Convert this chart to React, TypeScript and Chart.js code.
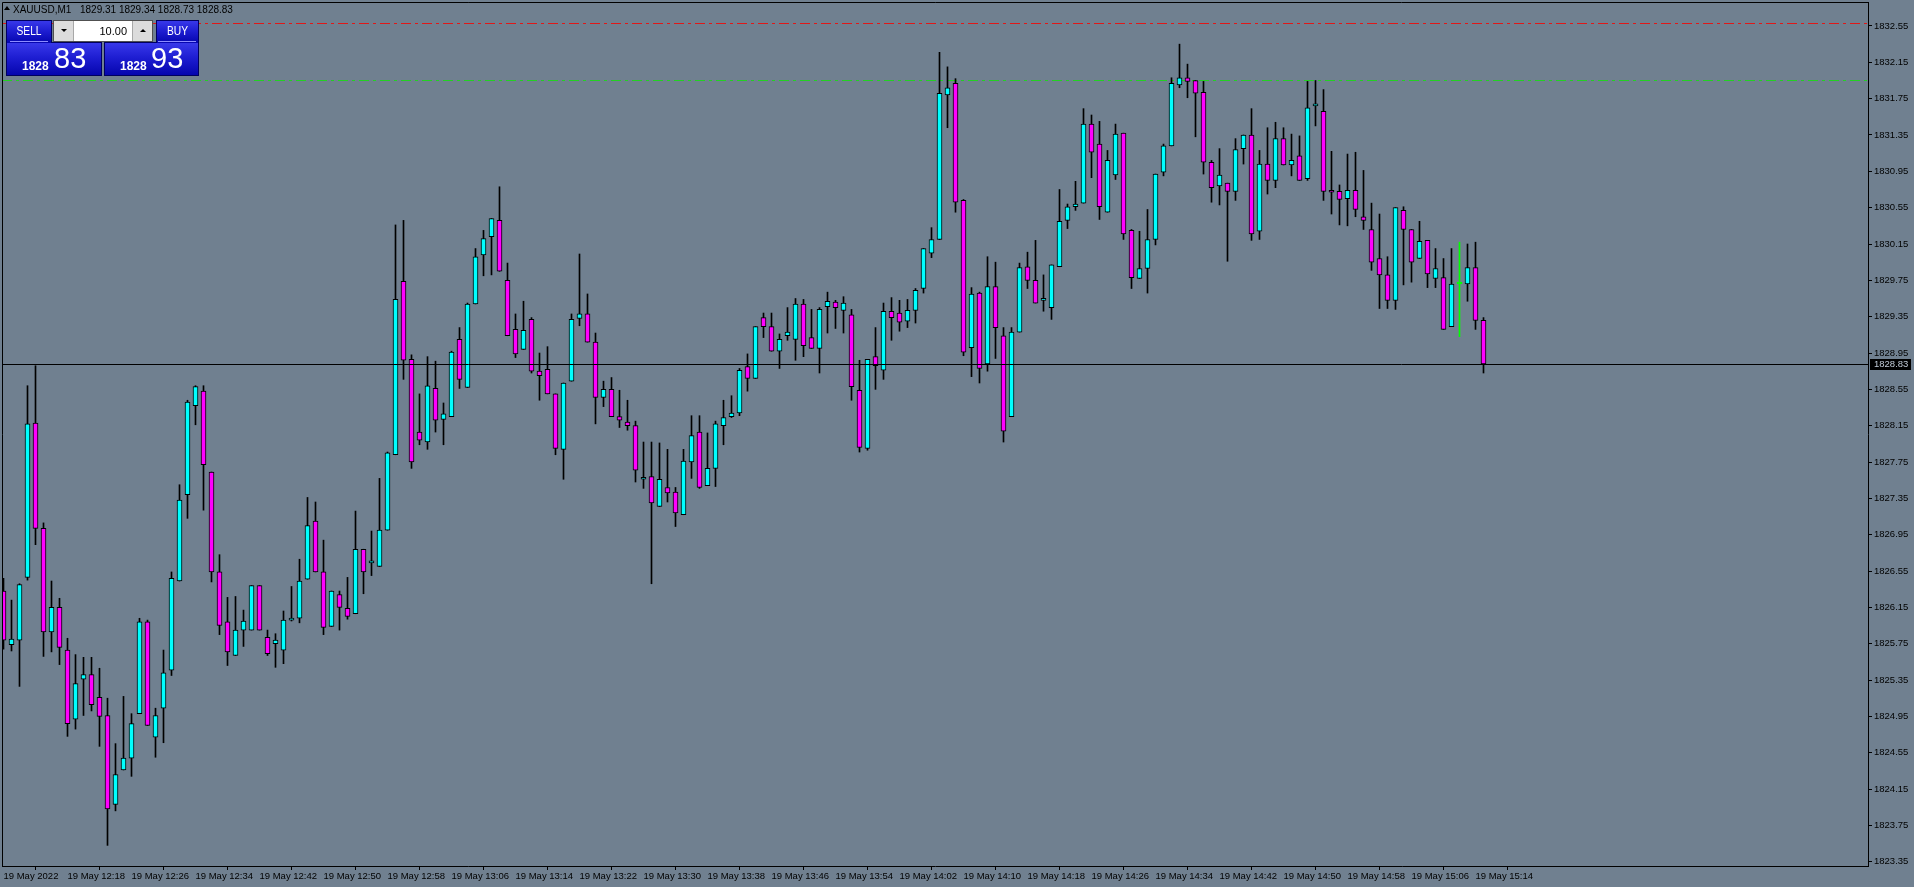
import React, { useEffect, useRef } from "react";
import { Chart, registerables } from "chart.js";

Chart.register(...registerables);

const symbol = "XAUUSD,M1";

// tick labels on the time axis (one every 8 one-minute bars, first bar = 12:10)
const timeLabels = [
  "19 May 2022", "19 May 12:18", "19 May 12:26", "19 May 12:34", "19 May 12:42", "19 May 12:50",
  "19 May 12:58", "19 May 13:06", "19 May 13:14", "19 May 13:22", "19 May 13:30", "19 May 13:38",
  "19 May 13:46", "19 May 13:54", "19 May 14:02", "19 May 14:10", "19 May 14:18", "19 May 14:26",
  "19 May 14:34", "19 May 14:42", "19 May 14:50", "19 May 14:58", "19 May 15:06", "19 May 15:14",
];
const labelStep = 8;

const opens = [
  1826.33, 1825.74, 1825.79, 1826.48, 1828.18, 1827.02, 1825.88, 1826.15, 1825.68, 1824.92,
  1825.36, 1825.41, 1825.16, 1824.96, 1823.98, 1824.36, 1824.49, 1824.98, 1825.99, 1824.72,
  1825.04, 1825.46, 1826.44, 1827.39, 1828.37, 1828.53, 1827.64, 1826.54, 1825.99, 1825.62,
  1825.90, 1825.90, 1826.39, 1825.82, 1825.75, 1825.68, 1826.01, 1826.03, 1826.46, 1827.10,
  1826.54, 1825.94, 1826.29, 1826.14, 1826.08, 1826.79, 1826.64, 1826.60, 1827.00, 1827.83,
  1829.74, 1828.88, 1828.08, 1827.97, 1828.56, 1828.22, 1828.25, 1829.10, 1828.57, 1829.49,
  1830.03, 1830.23, 1830.41, 1829.75, 1829.21, 1828.99, 1829.32, 1828.75, 1828.77, 1828.50,
  1827.89, 1828.64, 1829.33, 1829.38, 1829.07, 1828.46, 1828.55, 1828.25, 1828.19, 1828.15,
  1827.56, 1827.59, 1827.26, 1827.47, 1827.42, 1827.17, 1827.75, 1828.08, 1827.49, 1827.68,
  1828.15, 1828.25, 1828.29, 1828.80, 1828.67, 1829.34, 1829.24, 1828.97, 1829.14, 1829.10,
  1829.49, 1829.12, 1829.00, 1829.46, 1829.51, 1829.42, 1829.37, 1828.54, 1827.90, 1828.91,
  1828.76, 1829.41, 1829.39, 1829.30, 1829.42, 1829.66, 1830.05, 1830.20, 1831.79, 1831.92,
  1830.63, 1829.01, 1829.61, 1828.83, 1829.68, 1829.14, 1828.25, 1829.18, 1829.90, 1829.75,
  1829.53, 1829.45, 1829.90, 1830.41, 1830.56, 1830.60, 1831.47, 1831.25, 1830.50, 1830.91,
  1831.37, 1830.30, 1829.77, 1829.88, 1830.20, 1830.94, 1831.23, 1831.90, 1831.98, 1831.95,
  1831.82, 1831.05, 1830.79, 1830.82, 1830.73, 1831.20, 1831.35, 1830.29, 1831.03, 1830.85,
  1831.31, 1831.02, 1831.12, 1830.87, 1831.67, 1831.61, 1830.74, 1830.73, 1830.65, 1830.74,
  1830.45, 1830.31, 1829.99, 1829.81, 1829.53, 1830.52, 1830.31, 1829.99, 1830.19, 1829.77,
  1829.78, 1829.24, 1829.71, 1829.71, 1829.89, 1829.31,
];

const highs = [
  1826.47, 1826.23, 1826.41, 1828.59, 1828.81, 1827.08, 1826.44, 1826.25, 1825.81, 1825.63,
  1825.60, 1825.60, 1825.48, 1825.15, 1824.65, 1825.17, 1824.98, 1826.03, 1826.01, 1825.04,
  1825.68, 1826.54, 1827.50, 1828.43, 1828.59, 1828.59, 1827.64, 1826.73, 1826.26, 1826.27,
  1826.12, 1826.39, 1826.39, 1825.90, 1825.86, 1826.11, 1826.38, 1826.68, 1827.36, 1827.31,
  1826.89, 1826.33, 1826.33, 1826.48, 1827.21, 1826.79, 1826.99, 1827.57, 1827.86, 1830.36,
  1830.41, 1828.93, 1828.50, 1828.91, 1828.86, 1828.40, 1828.97, 1829.23, 1829.50, 1830.10,
  1830.30, 1830.43, 1830.78, 1829.94, 1829.38, 1829.52, 1829.34, 1828.95, 1829.02, 1828.50,
  1828.62, 1829.38, 1830.04, 1829.60, 1829.17, 1828.64, 1828.68, 1828.54, 1828.43, 1828.20,
  1827.97, 1827.97, 1827.96, 1827.89, 1827.47, 1827.89, 1828.26, 1828.26, 1828.07, 1828.20,
  1828.43, 1828.48, 1828.78, 1828.94, 1829.24, 1829.39, 1829.39, 1829.16, 1829.45, 1829.55,
  1829.54, 1829.43, 1829.45, 1829.62, 1829.53, 1829.57, 1829.43, 1828.87, 1828.88, 1829.23,
  1829.50, 1829.56, 1829.53, 1829.54, 1829.66, 1830.10, 1830.33, 1832.26, 1832.10, 1831.97,
  1830.64, 1829.67, 1829.62, 1830.01, 1829.95, 1829.23, 1829.23, 1829.94, 1830.06, 1830.19,
  1829.81, 1829.92, 1830.75, 1830.59, 1830.84, 1831.64, 1831.57, 1831.50, 1831.18, 1831.47,
  1831.37, 1830.31, 1830.29, 1830.53, 1830.92, 1831.25, 1831.98, 1832.35, 1832.13, 1831.95,
  1831.94, 1831.07, 1831.20, 1830.82, 1831.31, 1831.35, 1831.64, 1831.18, 1831.43, 1831.49,
  1831.43, 1831.36, 1831.34, 1831.94, 1831.95, 1831.85, 1831.17, 1830.80, 1831.14, 1831.16,
  1830.96, 1830.60, 1830.48, 1830.01, 1830.55, 1830.56, 1830.31, 1830.40, 1830.19, 1830.10,
  1829.99, 1830.10, 1830.17, 1830.15, 1830.17, 1829.34,
];

const lows = [
  1825.69, 1825.67, 1825.28, 1826.45, 1826.84, 1825.61, 1825.66, 1825.52, 1824.73, 1824.81,
  1824.96, 1825.01, 1824.62, 1823.53, 1823.91, 1824.36, 1824.29, 1824.98, 1824.85, 1824.50,
  1824.66, 1825.40, 1826.44, 1827.13, 1828.16, 1827.22, 1826.43, 1825.85, 1825.51, 1825.62,
  1825.72, 1825.90, 1825.90, 1825.62, 1825.49, 1825.53, 1826.00, 1825.98, 1826.46, 1826.54,
  1825.85, 1825.94, 1825.90, 1826.02, 1826.08, 1826.30, 1826.50, 1826.60, 1827.00, 1827.83,
  1828.66, 1827.68, 1827.94, 1827.89, 1828.08, 1827.94, 1828.25, 1828.56, 1828.57, 1829.49,
  1829.80, 1829.81, 1829.85, 1829.14, 1828.90, 1828.99, 1828.73, 1828.43, 1828.50, 1827.83,
  1827.56, 1828.64, 1829.25, 1829.07, 1828.17, 1828.36, 1828.25, 1828.13, 1828.10, 1827.53,
  1827.46, 1826.41, 1827.26, 1827.31, 1827.04, 1827.17, 1827.57, 1827.46, 1827.49, 1827.48,
  1827.94, 1828.24, 1828.26, 1828.53, 1828.67, 1829.12, 1828.97, 1828.78, 1829.09, 1828.87,
  1828.91, 1829.00, 1828.73, 1829.17, 1829.22, 1829.17, 1828.43, 1827.86, 1827.88, 1828.55,
  1828.66, 1829.09, 1829.19, 1829.23, 1829.28, 1829.61, 1830.00, 1830.20, 1831.43, 1830.50,
  1828.92, 1828.69, 1828.62, 1828.75, 1828.89, 1827.97, 1828.25, 1829.18, 1829.66, 1829.50,
  1829.41, 1829.32, 1829.90, 1830.32, 1830.52, 1830.60, 1830.88, 1830.42, 1830.50, 1830.86,
  1830.20, 1829.66, 1829.77, 1829.61, 1830.14, 1830.90, 1831.23, 1831.87, 1831.76, 1831.33,
  1830.92, 1830.61, 1830.58, 1829.96, 1830.63, 1831.03, 1830.19, 1830.20, 1830.70, 1830.77,
  1831.02, 1830.90, 1830.85, 1830.85, 1831.45, 1830.63, 1830.48, 1830.36, 1830.35, 1830.45,
  1830.31, 1829.86, 1829.44, 1829.44, 1829.43, 1829.70, 1829.73, 1829.99, 1829.67, 1829.67,
  1829.21, 1829.24, 1829.13, 1829.52, 1829.21, 1828.73,
];

const closes = [
  1825.79, 1825.80, 1826.40, 1828.17, 1827.02, 1825.88, 1826.15, 1825.71, 1824.87, 1825.31,
  1825.41, 1825.08, 1824.95, 1823.93, 1824.31, 1824.49, 1824.87, 1825.99, 1824.85, 1824.96,
  1825.43, 1826.47, 1827.33, 1828.41, 1828.58, 1827.72, 1826.54, 1825.95, 1825.66, 1825.90,
  1826.00, 1826.39, 1825.90, 1825.64, 1825.79, 1826.01, 1826.03, 1826.44, 1827.05, 1826.54,
  1825.93, 1826.33, 1826.15, 1826.05, 1826.79, 1826.54, 1826.65, 1827.00, 1827.85, 1829.54,
  1828.87, 1827.75, 1827.99, 1828.59, 1828.21, 1828.28, 1828.96, 1828.66, 1829.49, 1830.01,
  1830.21, 1830.43, 1829.85, 1829.14, 1828.94, 1829.20, 1828.75, 1828.70, 1828.50, 1827.90,
  1828.62, 1829.32, 1829.38, 1829.07, 1828.46, 1828.55, 1828.25, 1828.21, 1828.15, 1827.66,
  1827.58, 1827.30, 1827.56, 1827.41, 1827.19, 1827.76, 1828.04, 1827.47, 1827.68, 1828.17,
  1828.24, 1828.29, 1828.76, 1828.67, 1829.24, 1829.24, 1828.97, 1829.10, 1829.18, 1829.49,
  1829.03, 1829.00, 1829.43, 1829.52, 1829.45, 1829.50, 1828.58, 1827.91, 1828.88, 1828.81,
  1829.41, 1829.34, 1829.29, 1829.42, 1829.64, 1830.10, 1830.20, 1831.81, 1831.87, 1830.61,
  1828.96, 1829.60, 1828.78, 1829.68, 1829.23, 1828.09, 1829.18, 1829.89, 1829.75, 1829.50,
  1829.54, 1829.92, 1830.40, 1830.56, 1830.59, 1831.47, 1831.16, 1830.56, 1831.07, 1831.36,
  1830.26, 1829.78, 1829.88, 1830.20, 1830.92, 1831.23, 1831.92, 1831.98, 1831.94, 1831.81,
  1831.05, 1830.77, 1830.91, 1830.73, 1831.19, 1831.35, 1830.26, 1831.03, 1830.85, 1831.31,
  1831.02, 1831.07, 1830.85, 1831.65, 1831.69, 1830.73, 1830.72, 1830.64, 1830.74, 1830.53,
  1830.41, 1829.95, 1829.81, 1829.53, 1830.55, 1830.31, 1829.95, 1830.18, 1829.82, 1829.88,
  1829.21, 1829.71, 1829.71, 1829.89, 1829.31, 1828.83,
];

const yTicks = [
  1823.35, 1823.75, 1824.15, 1824.55, 1824.95, 1825.35, 1825.75, 1826.15, 1826.55, 1826.95,
  1827.35, 1827.75, 1828.15, 1828.55, 1828.95, 1829.35, 1829.75, 1830.15, 1830.55, 1830.95,
  1831.35, 1831.75, 1832.15, 1832.55,
];

const yMin = 1823.303;
const yMax = 1832.814;
const xMin = -0.1875;
const xMax = 233.0625;

const askPrice = 1828.93;
const stopLevel = 1832.58;
const takeLevel = 1831.95;
const lotSize = "10.00";

const BG = "#708090";
const BULL = "#00FFFF";
const BEAR = "#FF00FF";
const DOJI = "#00FF00";
const FONT = "'Liberation Sans', Arial, sans-serif";

function splitPrice(p: number) {
  const s = p.toFixed(2);
  const [a, b] = s.split(".");
  return { big: b, small: a };
}

export default function App() {
  const ref = useRef<HTMLCanvasElement>(null);

  useEffect(() => {
    const canvas = ref.current!;
    const bid = closes[closes.length - 1];

    const bodyData = opens.map((o, i) => ({ x: i, y: [o, closes[i]] }));
    const wickData = lows.map((l, i) => ({ x: i, y: [l, highs[i]] }));
    const bodyColors = opens.map((o, i) => (closes[i] > o ? BULL : closes[i] < o ? BEAR : DOJI));
    const edgeColors = opens.map((o, i) => (closes[i] === o ? DOJI : "#000000"));

    const levelsPlugin = {
      id: "levels",
      beforeDatasetsDraw(chart: any) {
        const { ctx, chartArea } = chart;
        const ys = chart.scales.y;
        const draw = (v: number, color: string) => {
          const y = Math.round(ys.getPixelForValue(v)) + 0.5;
          ctx.save();
          ctx.strokeStyle = color;
          ctx.lineWidth = 1;
          ctx.setLineDash([10, 4, 3, 4]);
          ctx.beginPath();
          ctx.moveTo(chartArea.left, y);
          ctx.lineTo(chartArea.right, y);
          ctx.stroke();
          ctx.restore();
        };
        draw(stopLevel, "#E01818");
        draw(takeLevel, "#22D022");
      },
      afterDatasetsDraw(chart: any) {
        const { ctx, chartArea } = chart;
        const ys = chart.scales.y;
        const y = Math.round(ys.getPixelForValue(bid)) + 0.5;
        ctx.save();
        ctx.strokeStyle = "#000";
        ctx.lineWidth = 1;
        ctx.beginPath();
        ctx.moveTo(chartArea.left, y);
        ctx.lineTo(chartArea.right, y);
        ctx.stroke();
        ctx.restore();
      },
      afterDraw(chart: any) {
        const { ctx, chartArea } = chart;
        const ys = chart.scales.y;
        ctx.save();
        ctx.strokeStyle = "#000";
        ctx.lineWidth = 1;
        ctx.beginPath();
        ctx.moveTo(chartArea.left + 0.5, chartArea.bottom);
        ctx.lineTo(chartArea.left + 0.5, chartArea.top + 0.5);
        ctx.lineTo(chartArea.right, chartArea.top + 0.5);
        ctx.stroke();
        const y = Math.round(ys.getPixelForValue(bid));
        ctx.fillStyle = "#000";
        ctx.fillRect(chartArea.right + 2, y - 5, 41, 11);
        ctx.fillStyle = "#C0CAD6";
        ctx.font = `9.5px ${FONT}`;
        ctx.textBaseline = "middle";
        ctx.textAlign = "left";
        ctx.fillText(bid.toFixed(2), chartArea.right + 6, y + 0.5);
        ctx.restore();
      },
    };

    const chart = new Chart(canvas, {
      type: "bar",
      data: {
        datasets: [
          {
            data: bodyData as any,
            backgroundColor: bodyColors,
            borderColor: edgeColors,
            borderWidth: 1,
            borderSkipped: false,
            barThickness: 5,
            minBarLength: 2,
            grouped: false,
            order: 0,
          } as any,
          {
            data: wickData as any,
            backgroundColor: edgeColors,
            borderWidth: 0,
            barThickness: 1,
            grouped: false,
            order: 1,
          } as any,
        ],
      },
      options: {
        responsive: false,
        devicePixelRatio: 1,
        animation: false,
        events: [],
        layout: { padding: { left: 2, top: 2, right: 0, bottom: 0 } },
        plugins: { legend: { display: false }, tooltip: { enabled: false } },
        scales: {
          x: {
            type: "linear",
            min: xMin,
            max: xMax,
            bounds: "data",
            offset: false,
            grid: { drawOnChartArea: false, drawTicks: true, tickLength: 4, color: "#000" },
            border: { display: true, color: "#000", width: 1 },
            ticks: {
              autoSkip: false,
              maxRotation: 0,
              minRotation: 0,
              align: "start",
              padding: 1,
              color: "#000",
              font: { family: FONT, size: 9.5 },
              callback: (_v: any, i: number) => timeLabels[i],
            },
            afterBuildTicks: (s: any) => {
              s.ticks = timeLabels.map((_, j) => ({ value: j * labelStep }));
            },
            afterFit: (s: any) => {
              s.height = 21;
              s.paddingLeft = 0;
              s.paddingRight = 0;
              s.paddingTop = 0;
              s.paddingBottom = 0;
            },
          } as any,
          y: {
            type: "linear",
            position: "right",
            min: yMin,
            max: yMax,
            bounds: "data",
            grid: { drawOnChartArea: false, drawTicks: true, tickLength: 4, color: "#000" },
            border: { display: true, color: "#000", width: 1 },
            ticks: {
              padding: 2,
              color: "#000",
              font: { family: FONT, size: 9.5 },
              callback: (v: any) => Number(v).toFixed(2),
            },
            afterBuildTicks: (s: any) => {
              s.ticks = yTicks.map((v) => ({ value: v }));
            },
            afterFit: (s: any) => {
              s.width = 46;
              s.paddingTop = 0;
              s.paddingBottom = 0;
              s.paddingLeft = 0;
              s.paddingRight = 0;
            },
          } as any,
        },
      },
      plugins: [levelsPlugin],
    });
    return () => chart.destroy();
  }, []);

  const last = opens.length - 1;
  const bid = closes[last];
  const sellP = splitPrice(bid);
  const buyP = splitPrice(askPrice);
  const grad = "linear-gradient(to bottom, #3838ea 0%, #1e1ed2 45%, #0505ae 100%)";
  const navy = "#000060";

  const abs = (s: React.CSSProperties): React.CSSProperties => ({ position: "absolute", boxSizing: "border-box", ...s });

  return (
    <div style={{ position: "fixed", left: 0, top: 0, width: 1914, height: 887, background: BG, overflow: "hidden", fontFamily: FONT }}>
      <canvas ref={ref} width={1914} height={887} style={{ display: "block", position: "absolute", left: 0, top: 0 }} />

      {/* header */}
      <div style={abs({ left: 4, top: 6, width: 0, height: 0, borderLeft: "3px solid transparent", borderRight: "3px solid transparent", borderBottom: "4px solid #000" })} />
      <div style={abs({ left: 13, top: 5, fontSize: 10, lineHeight: "10px", color: "#000", whiteSpace: "pre" })}>{symbol}</div>
      <div style={abs({ left: 80, top: 5, fontSize: 10, lineHeight: "10px", color: "#000", whiteSpace: "pre" })}>
        {`${opens[last].toFixed(2)} ${highs[last].toFixed(2)} ${lows[last].toFixed(2)} ${closes[last].toFixed(2)}`}
      </div>

      {/* SELL block */}
      <div style={abs({ left: 6, top: 42, width: 96, height: 34, background: grad, border: `1px solid ${navy}` })} />
      <div style={abs({ left: 6, top: 20, width: 46, height: 23, background: grad, border: `1px solid ${navy}`, borderBottom: "none" })} />
      <div style={abs({ left: 6, top: 24, width: 46, height: 14, color: "#fff", fontSize: 12.5, lineHeight: "14px", textAlign: "center", transform: "scaleX(0.82)" })}>SELL</div>
      <div style={abs({ left: 10, top: 41, width: 38, height: 1, background: "#8c8cff" })} />
      <div style={abs({ left: 22, top: 60, fontSize: 12, lineHeight: "12px", fontWeight: "bold", color: "#fff" })}>{sellP.small}</div>
      <div style={abs({ left: 54, top: 44, fontSize: 29, lineHeight: "29px", color: "#fff" })}>{sellP.big}</div>

      {/* BUY block */}
      <div style={abs({ left: 104, top: 42, width: 95, height: 34, background: grad, border: `1px solid ${navy}` })} />
      <div style={abs({ left: 156, top: 20, width: 43, height: 23, background: grad, border: `1px solid ${navy}`, borderBottom: "none" })} />
      <div style={abs({ left: 156, top: 24, width: 43, height: 14, color: "#fff", fontSize: 12.5, lineHeight: "14px", textAlign: "center", transform: "scaleX(0.82)" })}>BUY</div>
      <div style={abs({ left: 158, top: 41, width: 38, height: 1, background: "#8c8cff" })} />
      <div style={abs({ left: 120, top: 60, fontSize: 12, lineHeight: "12px", fontWeight: "bold", color: "#fff" })}>{buyP.small}</div>
      <div style={abs({ left: 151, top: 44, fontSize: 29, lineHeight: "29px", color: "#fff" })}>{buyP.big}</div>

      {/* lot box */}
      <div style={abs({ left: 53, top: 20, width: 100, height: 22, background: "#fff", border: "1px solid #505050" })}>
        <div style={abs({ left: 0, top: 0, width: 20, height: 20, background: "#dcdcdc", borderRight: "1px solid #a8a8a8" })}>
          <div style={abs({ left: 7, top: 8, width: 0, height: 0, borderLeft: "3px solid transparent", borderRight: "3px solid transparent", borderTop: "3px solid #000" })} />
        </div>
        <div style={abs({ right: 0, top: 0, width: 20, height: 20, background: "#dcdcdc", borderLeft: "1px solid #a8a8a8" })}>
          <div style={abs({ left: 7, top: 8, width: 0, height: 0, borderLeft: "3px solid transparent", borderRight: "3px solid transparent", borderBottom: "3px solid #000" })} />
        </div>
        <div style={abs({ right: 25, top: 4, fontSize: 11, lineHeight: "12px", color: "#000" })}>{lotSize}</div>
      </div>
    </div>
  );
}
